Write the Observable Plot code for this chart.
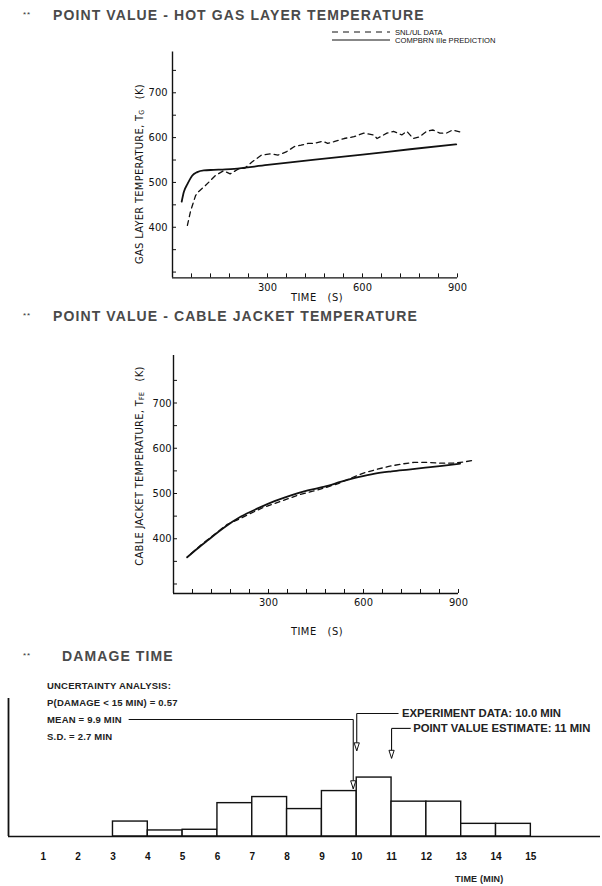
<!DOCTYPE html>
<html><head><meta charset="utf-8">
<script src="https://cdn.jsdelivr.net/npm/d3@7"></script>
<script src="https://cdn.jsdelivr.net/npm/@observablehq/plot@0.6"></script>
<style>
body{margin:0;background:#fff;}
#page{position:relative;width:602px;height:886px;overflow:hidden;font-family:"Liberation Sans",Arial,sans-serif;color:#111;}
.abs{position:absolute;white-space:pre;line-height:1;transform:translateY(-50%);}
.title{font-size:14px;font-weight:bold;letter-spacing:1.1px;color:#4a4a4a;}
.star{font-size:8px;letter-spacing:1px;color:#333;}
.narrow{font-family:"Liberation Sans Narrow","DejaVu Sans Condensed",sans-serif;}
.ylab{font-size:11px;letter-spacing:0.3px;transform:translate(-50%,-50%) rotate(-90deg);}
.xlab{font-size:11px;letter-spacing:0.5px;transform:translate(-50%,-50%);}
.note{font-size:9.5px;font-weight:bold;color:#222;letter-spacing:0.2px;}
.plot{position:absolute;left:0;}
sub{font-size:7px;vertical-align:-1px;}
</style></head>
<body><div id="page"></div>
<script>
// ---------- data ----------
// Hot gas layer temperature (K) vs time (s)
const gasSnlTime = [47,57,73,83,104,135,161,182,208,229,250,281,312,333,359,385,406,427,448,474,490,510,542,573,604,635,646,677,698,724,740,760,781,802,823,844,865,885,911];
const gasSnlTemp = [404,436,471,480,493,515,526,519,530,532,545,561,564,561,568,580,583,587,587,592,587,591,598,602,610,606,598,610,614,606,614,598,602,614,617,610,610,617,612];
const gasCompTime = [29,36,47,62,78,99,130,167,300,450,600,750,896];
const gasCompTemp = [457,479,496,515,523,527,528,529,539,551,562,574,585];
// Cable jacket temperature (K) vs time (s)
const cabSnlTime = [55,90,130,170,200,240,280,320,360,400,440,480,520,560,600,640,680,720,760,800,840,880,920,950];
const cabSnlTemp = [367,388,410,432,441,455,468,478,488,498,505,513,522,534,545,553,560,565,569,569,567,567,570,574];
const cabCompTime = [43,75,107,160,213,266,319,371,424,477,530,583,636,689,742,795,848,905];
const cabCompTemp = [359,378,396,425,449,467,483,496,507,515,526,536,544,549,553,557,561,566];
// Damage time histogram
const binStart = [3,4,5,6,7,8,9,10,11,12,13,14];
const binFreq = [0.026,0.0105,0.0117,0.058,0.0686,0.0477,0.079,0.1025,0.0606,0.0606,0.022,0.022];
const minuteTicks = [1,2,3,4,5,6,7,8,9,10,11,12,13,14,15];
const secMajorTicks = [300,600,900];
const secMinorTicks = [60,120,180,240,300,360,420,480,540,600,660,720,780,840,900];
const tempMajorTicks = [400,500,600,700];
const tempMinorTicks = [300,350,400,450,500,550,600,650,700,750];
const meanDamage = 9.9, experimentDamage = 10.0, pointEstimate = 11;

// ---------- helpers ----------
const page = document.getElementById("page");
function addText(html, cls, left, top) {
  const d = document.createElement("div");
  d.className = "abs " + cls;
  d.style.left = left + "px"; d.style.top = top + "px";
  d.innerHTML = html; page.appendChild(d); return d;
}
const axisFont = '"Liberation Sans Narrow","DejaVu Sans Condensed",sans-serif';
const zip = (ts, ks) => ts.map((t, i) => ({t, k: ks[i]}));

function tempChart(o) {
  const svg = Plot.plot({
    width: 602, height: o.height,
    marginTop: o.mt, marginBottom: o.mb, marginLeft: o.ml, marginRight: o.mr,
    style: {fontFamily: axisFont, fontSize: "11px", background: "transparent", color: "#111", overflow: "visible"},
    x: {domain: [0, 900], label: null},
    y: {domain: o.yDomain, label: null},
    marks: [
      Plot.axisX(secMinorTicks, {tickSize: -4, tickFormat: () => "", label: null, strokeWidth: 1}),
      Plot.axisX(secMajorTicks, {tickSize: 0, tickPadding: 5, label: null}),
      Plot.axisY(tempMinorTicks, {tickSize: -4, tickFormat: () => "", label: null, strokeWidth: 1}),
      Plot.axisY(tempMajorTicks, {tickSize: 0, tickPadding: o.yPad, label: null}),
      Plot.ruleX([0], {strokeWidth: 1.4}),
      Plot.ruleY([o.yDomain[0]], {strokeWidth: 1.4}),
      Plot.line(zip(o.snlT, o.snlK), {x: "t", y: "k", strokeDasharray: "5,4", strokeWidth: 1.3, curve: "linear"}),
      Plot.line(zip(o.compT, o.compK), {x: "t", y: "k", strokeWidth: 1.8, curve: "monotone-x"})
    ]
  });
  svg.classList.add("plot");
  svg.style.top = o.top + "px";
  page.appendChild(svg);
}

// ---------- chart 1 ----------
addText("**", "star", 23, 15);
addText("POINT VALUE - HOT GAS LAYER TEMPERATURE", "title", 53, 15);
tempChart({top: 0, height: 300, mt: 51.5, mb: 22.6, ml: 172, mr: 145, yDomain: [287, 791], yPad: 5,
  snlT: gasSnlTime, snlK: gasSnlTemp, compT: gasCompTime, compK: gasCompTemp});
addText("GAS LAYER TEMPERATURE, T<sub>G</sub>   (K)", "narrow ylab", 140, 174);
addText("TIME   (S)", "narrow xlab", 317, 297);
// legend
const leg = document.createElement("div");
leg.className = "abs"; leg.style.left = "332px"; leg.style.top = "37px";
leg.innerHTML = `<svg width="270" height="20" style="display:block">
 <line x1="0" x2="58" y1="5" y2="5" stroke="#111" stroke-width="1" stroke-dasharray="6,5"/>
 <line x1="0" x2="58" y1="13" y2="13" stroke="#111" stroke-width="1"/>
 <text x="63" y="7.5" font-size="7.6" font-family="Liberation Sans, Arial, sans-serif" fill="#111">SNL/UL DATA</text>
 <text x="63" y="15.8" font-size="7.6" font-family="Liberation Sans, Arial, sans-serif" fill="#111">COMPBRN IIIe PREDICTION</text>
</svg>`;
page.appendChild(leg);

// ---------- chart 2 ----------
addText("**", "star", 23, 316);
addText("POINT VALUE - CABLE JACKET TEMPERATURE", "title", 53, 316);
tempChart({top: 300, height: 340, mt: 55, mb: 47, ml: 173, mr: 144, yDomain: [279, 805], yPad: 2,
  snlT: cabSnlTime, snlK: cabSnlTemp, compT: cabCompTime, compK: cabCompTemp});
addText("CABLE JACKET TEMPERATURE, T<sub>FE</sub>   (K)", "narrow ylab", 140, 466);
addText("TIME   (S)", "narrow xlab", 317, 631);

// ---------- histogram ----------
addText("**", "star", 23, 656);
addText("DAMAGE TIME", "title", 62, 656);
addText("UNCERTAINTY ANALYSIS:", "note", 47, 686);
addText("P(DAMAGE &lt; 15 MIN) = 0.57", "note", 47, 703);
addText("MEAN = 9.9 MIN", "note", 47, 720);
addText("S.D. = 2.7 MIN", "note", 47, 737);
addText("TIME (MIN)", "note", 455, 879).style.fontSize = "9px";

const bins = binStart.map((a, i) => ({a, b: a + 1, f: binFreq[i]}));
const downTri = {draw(ctx) { ctx.moveTo(-2.6, -8); ctx.lineTo(2.6, -8); ctx.lineTo(0, 0); ctx.closePath(); }};
const arrows = [
  {x: meanDamage, yTop: 0.2035, yTip: 0.083, hx: 3.45},
  {x: experimentDamage, yTop: 0.214, yTip: 0.149, hx: 11.2},
  {x: pointEstimate, yTop: 0.188, yTip: 0.136, hx: 11.55}
];
const notes = [
  {x: 11.3, y: 0.214, text: "EXPERIMENT DATA: 10.0 MIN"},
  {x: 11.62, y: 0.188, text: "POINT VALUE ESTIMATE: 11 MIN"}
];
const hist = Plot.plot({
  width: 602, height: 246, marginTop: 58, marginBottom: 50, marginLeft: 8, marginRight: 2,
  style: {fontFamily: '"Liberation Sans",Arial,sans-serif', fontSize: "10px", background: "transparent", color: "#111", overflow: "visible"},
  x: {domain: [0, 17], label: null},
  y: {domain: [0, 0.24], label: null, axis: null},
  marks: [
    Plot.rectY(bins, {x1: "a", x2: "b", y: "f", fill: "white", stroke: "#111", strokeWidth: 1.4}),
    Plot.ruleY([0], {strokeWidth: 1.4}),
    Plot.ruleX([0], {strokeWidth: 1.8}),
    Plot.axisX(minuteTicks, {tickSize: 0, tickPadding: 16, fontWeight: "bold", fontSize: 10, label: null}),
    Plot.link(arrows, {x1: "hx", x2: "x", y1: "yTop", y2: "yTop", strokeWidth: 1.1}),
    Plot.link(arrows, {x1: "x", x2: "x", y1: "yTop", y2: "yTip", strokeWidth: 1.1}),
    Plot.dot(arrows, {x: "x", y: "yTip", symbol: downTri, fill: "white", stroke: "#111", strokeWidth: 1}),
    Plot.text(notes, {x: "x", y: "y", text: "text", textAnchor: "start", fontWeight: "bold", fontSize: 11.3, fill: "#222"})
  ]
});
hist.classList.add("plot");
hist.style.top = "640px";
page.appendChild(hist);
</script>
</body></html>
